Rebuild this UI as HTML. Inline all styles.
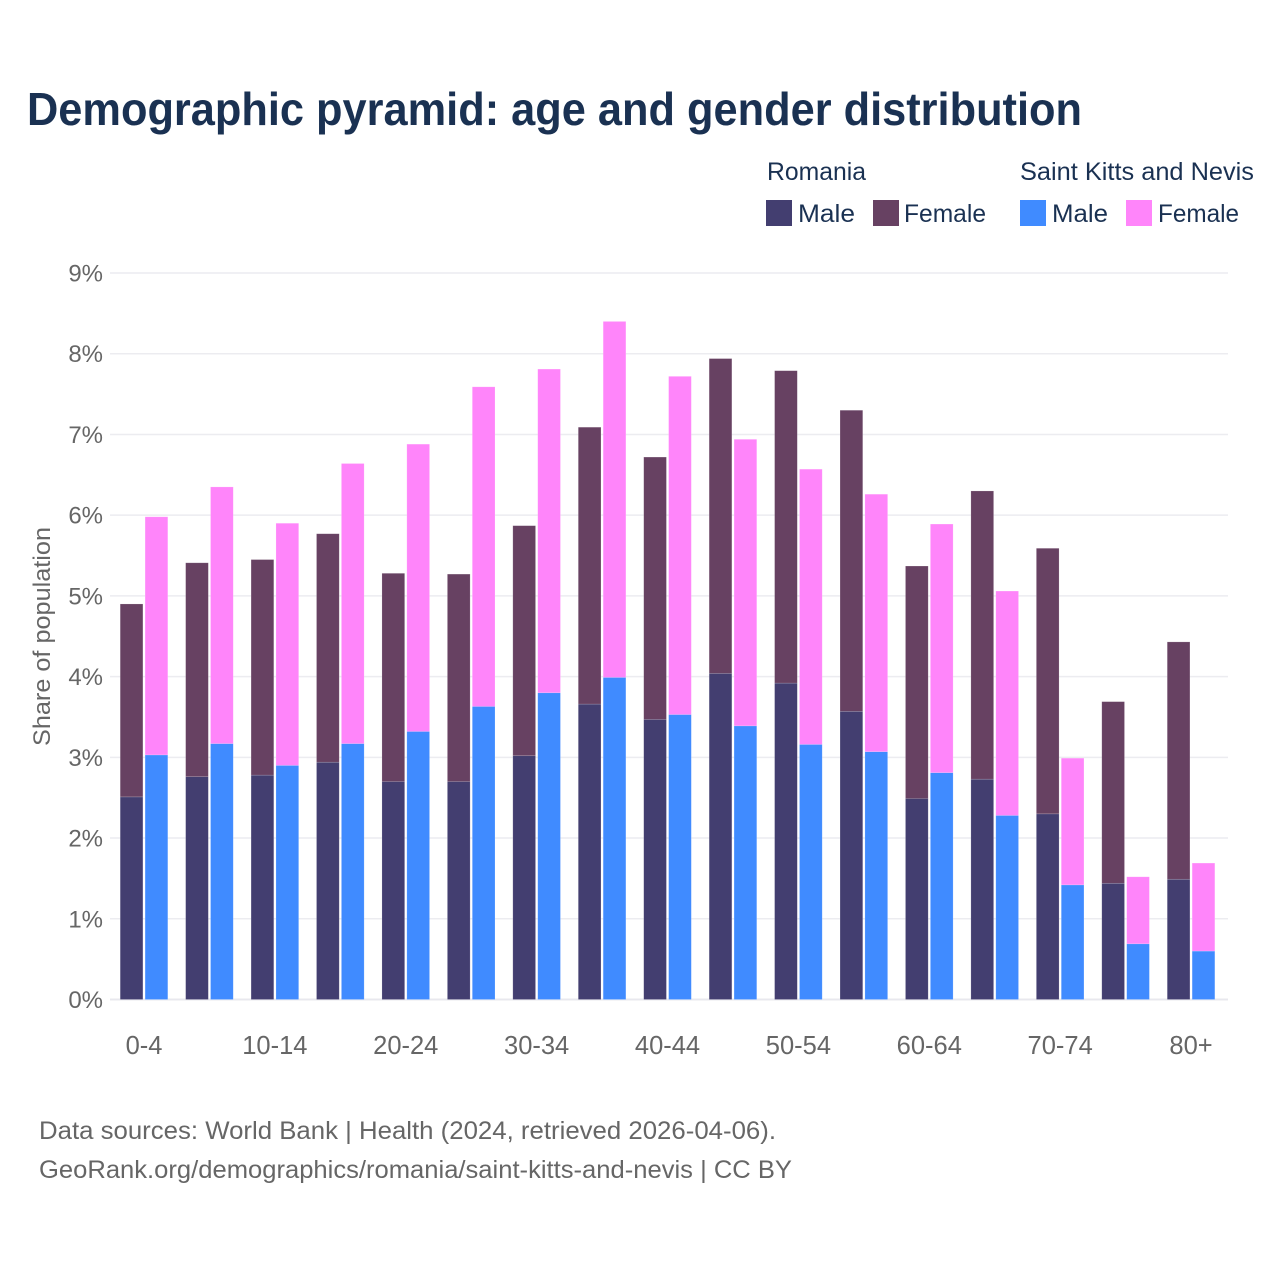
<!DOCTYPE html>
<html lang="en">
<head>
<meta charset="utf-8">
<title>Demographic pyramid</title>
<style>
html,body{margin:0;padding:0;background:#fff;width:1280px;height:1280px;overflow:hidden}
svg{display:block}
text{font-family:"Liberation Sans",sans-serif}
.tick{font-size:24px;fill:#666}
.xtick{font-size:25.5px;fill:#666}
.leg{font-size:25px;fill:#1a3152}
.foot{font-size:25px;fill:#666}
</style>
</head>
<body>
<svg id="chart" xmlns="http://www.w3.org/2000/svg" width="1280" height="1280" viewBox="0 0 1280 1280">
  <text x="27" y="125" font-size="46" font-weight="700" fill="#1a3152" textLength="1055" lengthAdjust="spacingAndGlyphs">Demographic pyramid: age and gender distribution</text>
  <g>
    <text class="leg" x="767" y="180" textLength="99" lengthAdjust="spacingAndGlyphs">Romania</text>
    <text class="leg" x="1020" y="180" textLength="234" lengthAdjust="spacingAndGlyphs">Saint Kitts and Nevis</text>
    <rect x="766" y="200" width="26" height="26" fill="#433e70"/>
    <text class="leg" x="798" y="222" textLength="57" lengthAdjust="spacingAndGlyphs">Male</text>
    <rect x="873" y="200" width="26" height="26" fill="#674162"/>
    <text class="leg" x="904" y="222" textLength="82" lengthAdjust="spacingAndGlyphs">Female</text>
    <rect x="1020" y="200" width="26" height="26" fill="#408bff"/>
    <text class="leg" x="1052" y="222" textLength="56" lengthAdjust="spacingAndGlyphs">Male</text>
    <rect x="1126" y="200" width="26" height="26" fill="#ff85fa"/>
    <text class="leg" x="1158" y="222" textLength="81" lengthAdjust="spacingAndGlyphs">Female</text>
  </g>
  <text transform="translate(50,746) rotate(-90)" font-size="24" fill="#666" textLength="219" lengthAdjust="spacingAndGlyphs">Share of population</text>
  <g id="grid"></g>
  <g id="yticks"></g>
  <g id="bars"></g>
  <g id="xticks"></g>
  <text class="foot" x="39" y="1139" textLength="737" lengthAdjust="spacingAndGlyphs">Data sources: World Bank | Health (2024, retrieved 2026-04-06).</text>
  <text class="foot" x="39" y="1178" textLength="753" lengthAdjust="spacingAndGlyphs">GeoRank.org/demographics/romania/saint-kitts-and-nevis | CC BY</text>
</svg>
<script>
const categories = ["0-4","5-9","10-14","15-19","20-24","25-29","30-34","35-39","40-44","45-49","50-54","55-59","60-64","65-69","70-74","75-79","80+"];
const romaniaMale = [2.51,2.76,2.78,2.94,2.70,2.70,3.02,3.66,3.47,4.04,3.92,3.57,2.49,2.73,2.30,1.44,1.49];
const romaniaFemale = [2.39,2.65,2.67,2.83,2.58,2.57,2.85,3.43,3.25,3.90,3.87,3.73,2.88,3.57,3.29,2.25,2.94];
const sknMale = [3.03,3.17,2.90,3.17,3.32,3.63,3.80,3.99,3.53,3.39,3.16,3.07,2.81,2.28,1.42,0.69,0.60];
const sknFemale = [2.95,3.18,3.00,3.47,3.56,3.96,4.01,4.41,4.19,3.55,3.41,3.19,3.08,2.78,1.57,0.83,1.09];
const yTickValues = [0,1,2,3,4,5,6,7,8,9];
const xTickLabels = ["0-4","10-14","20-24","30-34","40-44","50-54","60-64","70-74","80+"];

const NS = "http://www.w3.org/2000/svg";
const y0 = 999.5, yUnit = 80.72;
const firstCenter = 144, band = 65.44, barW = 22.7, barGap = 2.2;
function yScale(v){ return y0 - v * yUnit; }
function xCenter(i){ return firstCenter + i * band; }

const grid = document.getElementById("grid");
const yticks = document.getElementById("yticks");
yTickValues.forEach(function(v){
  const line = document.createElementNS(NS, "line");
  
  
  line.setAttribute("x1", 110);
  line.setAttribute("x2", 1228);
  line.setAttribute("y1", yScale(v));
  line.setAttribute("y2", yScale(v));
  line.setAttribute("stroke", v === 0 ? "#e8e8ee" : "#ececf0");
  line.setAttribute("stroke-width", v === 0 ? 2 : 1.5);
  grid.appendChild(line);
  const t = document.createElementNS(NS, "text");
  
  
  t.setAttribute("class", "tick");
  t.setAttribute("x", 103);
  t.setAttribute("y", yScale(v) + 8.5);
  t.setAttribute("text-anchor", "end");
  t.textContent = v + "%";
  yticks.appendChild(t);
});

const bars = document.getElementById("bars");
function addBar(x, v0, v1, fill, name){
  const r = document.createElementNS(NS, "rect");
  
  
  r.setAttribute("x", x);
  r.setAttribute("width", barW);
  r.setAttribute("y", yScale(v1));
  r.setAttribute("height", yScale(v0) - yScale(v1));
  r.setAttribute("fill", fill);
  r.setAttribute("stroke", "#ffffff");
  r.setAttribute("stroke-opacity", "0.25");
  r.setAttribute("stroke-width", "0.6");
  bars.appendChild(r);
}
categories.forEach(function(c, i){
  const cx = xCenter(i);
  const left = cx - barGap / 2 - barW;
  const right = cx + barGap / 2;
  addBar(left, 0, romaniaMale[i], "#433e70", "bar-romania-male");
  addBar(left, romaniaMale[i], romaniaMale[i] + romaniaFemale[i], "#674162", "bar-romania-female");
  addBar(right, 0, sknMale[i], "#408bff", "bar-skn-male");
  addBar(right, sknMale[i], sknMale[i] + sknFemale[i], "#ff85fa", "bar-skn-female");
});

const xticks = document.getElementById("xticks");
xTickLabels.forEach(function(label){
  const t = document.createElementNS(NS, "text");
  
  
  t.setAttribute("class", "xtick");
  t.setAttribute("x", xCenter(categories.indexOf(label)));
  t.setAttribute("y", 1054);
  t.setAttribute("text-anchor", "middle");
  t.textContent = label;
  xticks.appendChild(t);
});
</script>
</body>
</html>
